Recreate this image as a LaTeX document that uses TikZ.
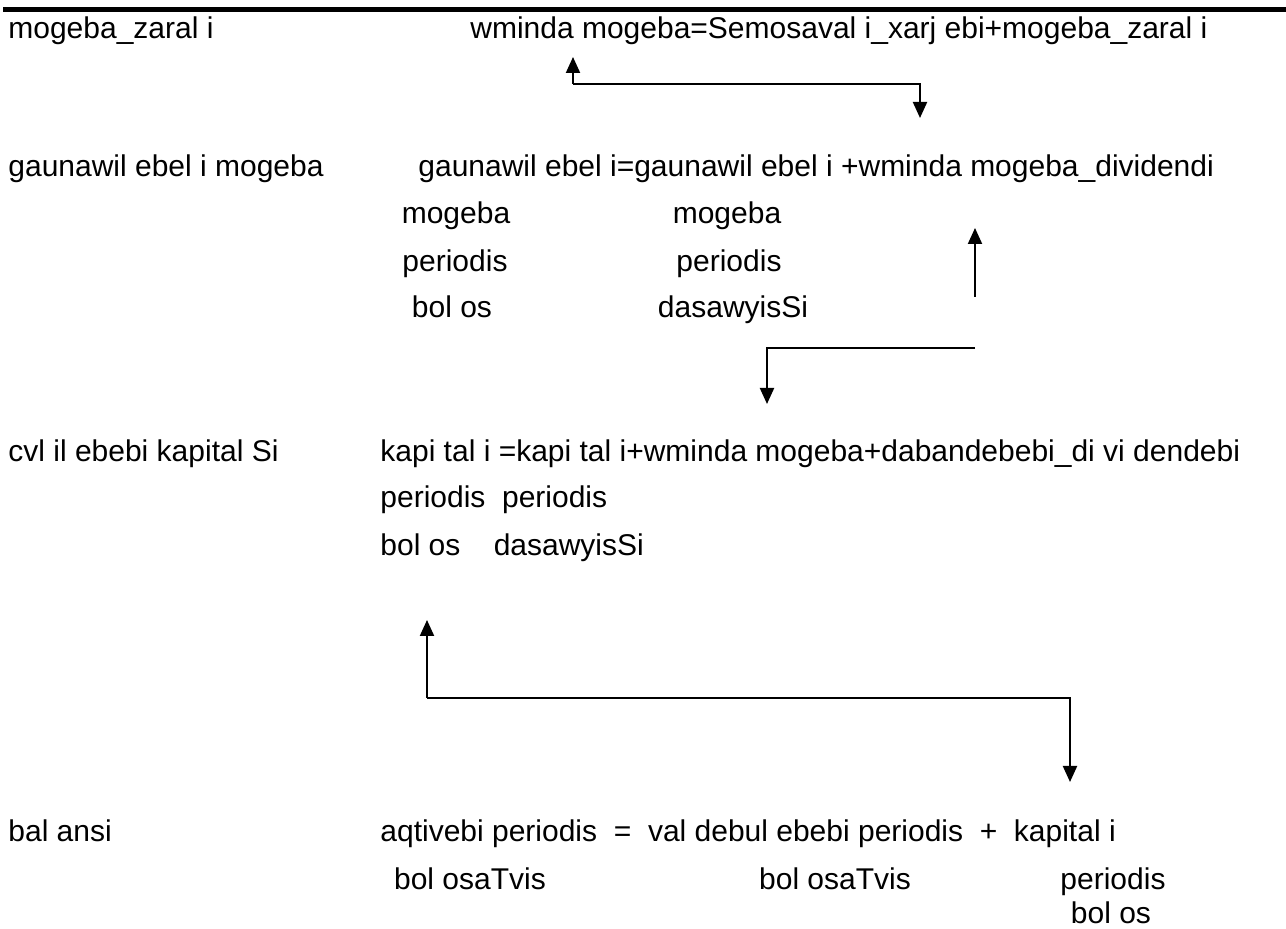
\documentclass[tikz,border=0pt]{standalone}
\usepackage{fontspec}
\setmainfont{Liberation Sans}
\usetikzlibrary{arrows.meta}

\tikzset{
  lbl/.style={anchor=base west, inner sep=0pt, font=\fontsize{15}{18}\selectfont},
  sub/.style={anchor=base, inner sep=0pt, font=\fontsize{15}{18}\selectfont},
  flow/.style={line width=1pt, -{Triangle[length=8pt,width=7pt]}}
}

\begin{document}
\begin{tikzpicture}[x=0.5pt,y=-0.5pt]
    \useasboundingbox (0,0) rectangle (1286,929);

    % Top rule
    \coordinate (ruleL) at (3,10);
    \coordinate (ruleR) at (1286,10);
    \draw[line width=2.5pt] (ruleL) -- (ruleR);

    % Profit and loss
    \node[lbl] (pl) at (8,39) {mogeba\_zaral i};
    \node[lbl] (plEq) at (470,39) {wminda mogeba=Semosaval i\_xarj ebi+mogeba\_zaral i};
    \coordinate (a1) at (573,84);
    \coordinate (a1t) at (573,57);
    \coordinate (a1r) at (920,84);
    \coordinate (a1d) at (920,118);
    \draw[flow] (a1) -- (a1t);
    \draw[flow] (a1) -- (a1r) -- (a1d);

    % Retained earnings
    \node[lbl] (re) at (8,177) {gaunawil ebel i mogeba};
    \node[lbl] (reEq) at (418,177) {gaunawil ebel i=gaunawil ebel i +wminda mogeba\_dividendi};
    \node[sub] (reA1) at (456,224) {mogeba};
    \node[sub] (reA2) at (455,272) {periodis};
    \node[sub] (reA3) at (452,318) {bol os};
    \node[sub] (reB1) at (727,224) {mogeba};
    \node[sub] (reB2) at (729,272) {periodis};
    \node[sub] (reB3) at (733,318) {dasawyisSi};
    \coordinate (a2b) at (975,297);
    \coordinate (a2t) at (975,228);
    \coordinate (a2r) at (975,348);
    \coordinate (a2l) at (767,348);
    \coordinate (a2d) at (767,404);
    \draw[flow] (a2b) -- (a2t);
    \draw[flow] (a2r) -- (a2l) -- (a2d);

    % Changes in capital
    \node[lbl] (cc) at (8,462) {cvl il ebebi kapital Si};
    \node[lbl] (ccEq) at (380,462) {kapi tal i =kapi tal i+wminda mogeba+dabandebebi\_di vi dendebi};
    \node[lbl] (ccA) at (380,508) {periodis\ \ periodis};
    \node[lbl] (ccB) at (380,556) {bol os\ \ \ \ dasawyisSi};
    \coordinate (a3) at (427,698);
    \coordinate (a3t) at (427,620);
    \coordinate (a3r) at (1070,698);
    \coordinate (a3d) at (1070,782);
    \draw[flow] (a3) -- (a3t);
    \draw[flow] (a3) -- (a3r) -- (a3d);

    % Balance
    \node[lbl] (bs) at (8,842) {bal ansi};
    \node[lbl] (bsEq) at (380,842) {aqtivebi periodis \ = \ val debul ebebi periodis \ + \ kapital i};
    \node[sub] (bsA) at (470,890) {bol osaTvis};
    \node[sub] (bsB) at (835,890) {bol osaTvis};
    \node[sub] (bsC) at (1113,890) {periodis};
    \node[sub] (bsD) at (1111,924) {bol os};
\end{tikzpicture}
\end{document}
